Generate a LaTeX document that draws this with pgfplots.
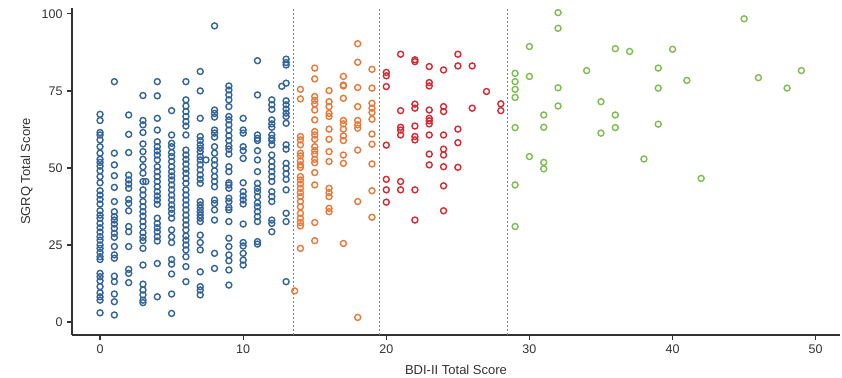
\documentclass[border=0pt]{standalone}
\usepackage{fontspec}
\setmainfont{Liberation Sans}
\usepackage{pgfplots}
\pgfplotsset{compat=1.18}
\definecolor{cblue}{HTML}{33649A}
\definecolor{corange}{HTML}{E8793A}
\definecolor{cred}{HTML}{D62A33}
\definecolor{cgreen}{HTML}{7DBD52}
\definecolor{axc}{HTML}{333333}
\begin{document}
\fontsize{13}{15}\selectfont
\begin{tikzpicture}
\useasboundingbox (-72pt,-42pt) rectangle (770pt,335pt);
\begin{axis}[
 scale only axis, width=768pt, height=327pt,
 xmin=-1.96, xmax=51.7, ymin=-4.2, ymax=101.9,
 axis x line*=bottom, axis y line*=left,
 axis line style={-, line width=1.2pt, color=axc},
 xtick={0,10,...,50}, ytick={0,25,50,75,100},
 tick align=outside, major tick length=5pt,
 tick style={line width=1.2pt, color=axc},
 ticklabel style={font=\fontsize{12.5}{14}\selectfont, text=axc},
 /pgf/number format/assume math mode=true,
 xlabel={BDI-II Total Score}, ylabel={SGRQ Total Score},
 label style={font=\fontsize{13}{15}\selectfont, text=axc},
 xlabel style={at={(axis description cs:0.5,-0.107)}, anchor=center},
 ylabel style={at={(axis description cs:-0.059,0.5)}, anchor=center},
 clip=false,
 every axis plot/.append style={only marks, mark=o, mark size=3pt, line width=1.4pt},
]
\draw[line width=1pt, color=gray, dash pattern=on 2pt off 2pt] (axis cs:13.5,-4.2) -- (axis cs:13.5,101.9);
\draw[line width=1pt, color=gray, dash pattern=on 2pt off 2pt] (axis cs:19.5,-4.2) -- (axis cs:19.5,101.9);
\draw[line width=1pt, color=gray, dash pattern=on 2pt off 2pt] (axis cs:28.5,-4.2) -- (axis cs:28.5,101.9);
% blue
\addplot[color=cblue] coordinates {
(0,67.4)(0,65.4)(0,61.5)(0,60.7)(0,59.1)(0,56.9)(0,54.8)(0,52.8)(0,51.8)(0,50.6)(0,49.1)(0,47.2)(0,45.2)(0,42.6)(0,41.2)(0,39.8)(0,38.3)(0,36.1)(0,34.7)(0,33.7)(0,32.0)(0,30.6)(0,29.2)(0,27.7)(0,26.6)(0,25.0)(0,23.9)(0,22.6)(0,21.2)(0,20.3)(0,15.8)(0,14.7)(0,13.4)(0,11.5)(0,9.5)(0,8.2)(0,7.1)(0,3.0)
(1,78.0)(1,54.8)(1,51.0)(1,47.5)(1,43.7)(1,39.1)(1,35.8)(1,34.2)(1,33.1)(1,31.8)(1,30.4)(1,28.8)(1,27.5)(1,24.5)(1,21.8)(1,20.7)(1,14.9)(1,13.1)(1,9.1)(1,6.6)(1,2.3)
(2,67.2)(2,60.9)(2,55.0)(2,47.7)(2,46.1)(2,44.8)(2,43.4)(2,39.8)(2,38.5)(2,36.1)(2,31.0)(2,29.3)(2,24.5)(2,17.1)(2,15.8)(2,12.8)
(3,73.5)(3,65.4)(3,64.0)(3,61.5)(3,57.8)(3,55.3)(3,52.8)(3,50.4)(3,48.3)(3,45.6)(3,42.9)(3,41.2)(3,39.1)(3,37.4)(3,35.8)(3,34.4)(3,32.6)(3,31.0)(3,29.0)(3,27.5)(3,26.4)(3,23.9)(3,18.5)(3,12.3)(3,10.4)(3,8.8)(3,7.1)(3,6.3)(3.2,45.6)
(4,78.0)(4,73.4)(4,66.1)(4,62.3)(4,58.5)(4,56.9)(4,55.5)(4,54.2)(4,52.6)(4,50.4)(4,48.8)(4,47.2)(4,45.6)(4,43.9)(4,42.3)(4,40.9)(4,39.6)(4,38.2)(4,33.7)(4,32.0)(4,30.6)(4,29.3)(4,27.7)(4,26.3)(4,19.0)(4,8.2)
(5,68.6)(5,60.7)(5,58.0)(5,56.9)(5,55.0)(5,53.7)(5,52.1)(5,50.4)(5,48.8)(5,47.4)(5,46.1)(5,44.5)(5,42.9)(5,41.2)(5,39.6)(5,38.0)(5,36.6)(5,35.3)(5,33.7)(5,29.9)(5,27.7)(5,25.8)(5,20.3)(5,18.8)(5,15.6)(5,9.1)(5,2.8)
(6,78.0)(6,72.1)(6,70.1)(6,68.3)(6,66.7)(6,65.0)(6,63.6)(6,60.7)(6,55.8)(6,54.2)(6,52.8)(6,51.3)(6,49.6)(6,48.3)(6,46.6)(6,45.0)(6,42.9)(6,41.2)(6,39.6)(6,38.0)(6,36.4)(6,34.7)(6,33.1)(6,31.5)(6,29.9)(6,27.9)(6,26.6)(6,25.0)(6,23.4)(6,21.2)(6,18.0)(6,13.1)
(7,81.3)(7,75.0)(7,66.1)(7,60.2)(7,58.9)(7,57.5)(7,56.4)(7,55.3)(7,53.7)(7,52.6)(7,51.0)(7,49.4)(7,47.7)(7,46.3)(7,45.0)(7,39.1)(7,38.0)(7,36.9)(7,35.8)(7,34.7)(7,33.7)(7,32.6)(7,28.2)(7,25.8)(7,23.4)(7,16.3)(7,11.5)(7,10.4)(7,8.8)(7.4,52.6)
(8,96.1)(8,68.8)(8,67.7)(8,66.5)(8,62.3)(8,61.3)(8,60.0)(8,56.9)(8,54.8)(8,52.6)(8,51.0)(8,49.1)(8,47.2)(8,45.6)(8,43.9)(8,39.6)(8,38.5)(8,36.4)(8,33.1)(8,22.3)(8,17.4)
(9,76.6)(9,75.3)(9,73.7)(9,72.1)(9,69.9)(9,66.7)(9,65.6)(9,64.0)(9,62.3)(9,60.4)(9,58.9)(9,57.1)(9,56.1)(9,54.5)(9,50.4)(9,48.8)(9,45.2)(9,44.5)(9,43.4)(9,40.2)(9,39.1)(9,37.2)(9,36.4)(9,32.6)(9,27.2)(9,24.5)(9,21.8)(9,19.9)(9,16.9)(9,12.0)
(10,66.1)(10,62.3)(10,61.3)(10,56.9)(10,55.6)(10,53.1)(10,45.2)(10,42.3)(10,40.9)(10,39.6)(10,38.3)(10,31.8)(10,25.8)(10,24.7)(10,22.3)(10,20.1)(10,18.5)
(11,84.8)(11,73.7)(11,60.7)(11,59.6)(11,58.9)(11,55.6)(11,52.6)(11,48.8)(11,45.0)(11,43.4)(11,42.3)(11,40.7)(11,38.7)(11,37.4)(11,35.8)(11,34.2)(11,32.6)(11,26.1)(11,25.3)
(12,72.1)(12,70.5)(12,69.0)(12,65.6)(12,64.3)(12,63.2)(12,60.7)(12,59.6)(12,58.9)(12,57.5)(12,54.2)(12,52.1)(12,50.4)(12,48.8)(12,47.2)(12,45.6)(12,42.3)(12,40.7)(12,39.1)(12,33.1)(12,32.0)(12,29.3)
(13,85.3)(13,84.2)(13,83.4)(13,77.5)(13,71.8)(13,70.5)(13,69.1)(13,67.8)(13,66.7)(13,64.5)(13,57.5)(13,56.1)(13,51.5)(13,49.9)(13,48.1)(13,46.3)(13,42.9)(13,35.3)(13,32.6)(13,13.1)(12.7,76.5)
};
% orange
\addplot[color=corange] coordinates {
(13.6,10.1)
(14,75.5)(14,72.4)(14,60.2)(14,59.1)(14,57.5)(14,54.8)(14,53.9)(14,52.3)(14,51.0)(14,50.2)(14,47.2)(14,46.1)(14,44.8)(14,43.4)(14,42.0)(14,40.7)(14,39.1)(14,37.4)(14,35.3)(14,33.7)(14,32.3)(14,31.2)(14,23.9)
(15,82.4)(15,78.9)(15,73.2)(15,71.9)(15,70.8)(15,68.8)(15,65.6)(15,61.8)(15,60.7)(15,59.3)(15,56.9)(15,55.6)(15,54.5)(15,52.8)(15,51.7)(15,48.5)(15,44.5)(15,32.3)(15,26.4)
(16,75.1)(16,71.5)(16,69.9)(16,67.7)(16,66.7)(16,62.6)(16,59.3)(16,55.3)(16,52.1)(16,43.4)(16,42.0)(16,40.7)(16,36.9)(16,35.8)
(17,79.7)(17,76.9)(17,76.6)(17,72.6)(17,65.4)(17,64.3)(17,62.6)(17,60.4)(17,58.9)(17,54.2)(17,51.5)(17,25.5)
(18,90.3)(18,84.3)(18,76.1)(18,69.9)(18,65.4)(18,64.0)(18,62.9)(18,55.8)(18,39.1)(18,1.5)
(19,82.0)(19,75.9)(19,71.0)(19,69.4)(19,68.0)(19,65.8)(19,61.0)(19,57.7)(19,51.3)(19,42.6)(19,34.0)
};
% red
\addplot[color=cred] coordinates {
(20,81.0)(20,79.9)(20,76.4)(20,57.4)(20,46.3)(20,42.9)(20,38.9)
(21,86.9)(21,68.6)(21,63.2)(21,62.3)(21,60.7)(21,45.6)(21,42.9)
(22,85.1)(22,84.5)(22,70.7)(22,69.4)(22,63.6)(22,60.2)(22,59.1)(22,42.9)(22,33.1)
(23,82.9)(23,77.7)(23,76.6)(23,68.8)(23,66.1)(23,65.3)(23,64.3)(23,60.7)(23,54.5)(23,51.0)
(24,81.8)(24,69.9)(24,68.3)(24,60.7)(24,56.1)(24,54.2)(24,50.4)(24,44.2)(24,36.1)
(25,86.9)(25,83.1)(25,62.6)(25,58.2)(25,50.2)
(26,83.1)(26,69.4)
(27,74.8)
(28,70.8)(28,68.6)
};
% green
\addplot[color=cgreen] coordinates {
(29,80.7)(29,78.0)(29,75.5)(29,72.9)(29,63.1)(29,44.5)(29,31.0)
(30,89.4)(30,79.7)(30,53.7)
(31,67.2)(31,63.2)(31,51.8)(31,49.7)
(32,100.4)(32,95.3)(32,76.0)(32,70.1)
(34,81.6)
(35,71.5)(35,61.3)
(36,88.7)(36,67.2)(36,63.1)
(37,87.8)
(38,52.9)
(39,82.4)(39,75.9)(39,64.2)
(40,88.5)
(41,78.4)
(42,46.6)
(45,98.4)
(46,79.3)
(48,75.9)
(49,81.6)
};
\end{axis}
\end{tikzpicture}
\end{document}
